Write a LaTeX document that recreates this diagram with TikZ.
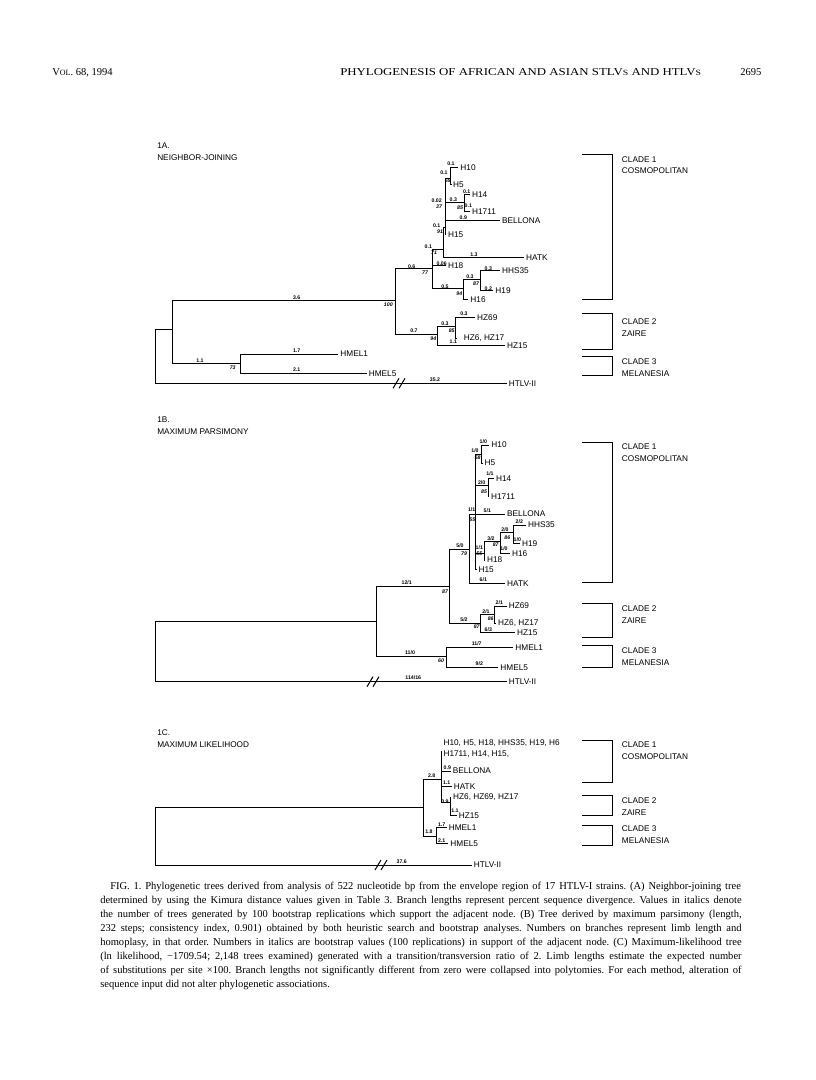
\documentclass[tikz,border=0pt]{standalone}
\usepackage{fontspec}
\usepackage{graphicx}
\setmainfont{Liberation Serif}
\newfontfamily\sansf{Liberation Sans}
\newcommand\labfont{\sansf\fontsize{6.2}{7}\selectfont}
\newcommand\tinyfont{\sansf\bfseries\fontsize{3.9}{4.5}\selectfont}
\newcommand\bsfont{\sansf\bfseries\itshape\fontsize{3.9}{4.5}\selectfont}
\frenchspacing
\begin{document}
\begin{tikzpicture}[x=0.75pt,y=-0.75pt,
  br/.style={line width=0.75pt},
  leaf/.style={anchor=west,inner sep=0pt,xshift=1.4pt,font=\labfont},
  txt/.style={anchor=west,inner sep=0pt,font=\labfont},
  bl/.style={inner sep=0pt,font=\tinyfont},
  bs/.style={inner sep=0pt,font=\bsfont},
  captxt/.style={anchor=base west,inner sep=0pt,font=\fontsize{7.9}{10.5}\selectfont},
  hdr/.style={anchor=base west,inner sep=0pt,font=\fontsize{7.9}{9}\selectfont},
  brk/.style={line width=0.75pt}]
\useasboundingbox[fill=white] (0,0) rectangle (816,1080);

% ---------- header ----------
\node[hdr] (hvol) at (52,76) {V{\fontsize{6}{7}\selectfont OL}. 68, 1994};
\node[hdr] (htitle) at (340,76) {\scalebox{1.22}[1]{PHYLOGENESIS OF AFRICAN AND ASIAN STLV{\fontsize{6}{7}\selectfont S} AND HTLV{\fontsize{6}{7}\selectfont S}}};
\node[hdr] (hpage) at (740,76) {2695};

% ================= 1A =================
\node[txt] (tA1) at (157,146) {1A.};
\node[txt] (tA2) at (157,158) {NEIGHBOR-JOINING};

\coordinate (aR) at (155,329.3);
\coordinate (aA) at (172.7,329.3);
\coordinate (aB) at (395,300.7);
\coordinate (aM) at (240,363.3);
\coordinate (aC) at (432,269);
\coordinate (aZ) at (437.3,334.3);
\coordinate (aZ1) at (455,326.7);
\coordinate (aD) at (443.3,250);
\coordinate (aD2) at (445,228);
\coordinate (aF) at (450.7,178.3);
\coordinate (aG) at (464.3,202.7);
\coordinate (aE) at (463.3,289);
\coordinate (aE2) at (480,280);
\coordinate (aHTLV) at (506.7,383.3);
\coordinate (aHMEL1) at (338.3,354);
\coordinate (aHMEL5) at (366.7,373.3);
\coordinate (aHZ69) at (475,317.3);
\coordinate (aHZ6) at (457,338);
\coordinate (aHZ15) at (505,345.7);
\coordinate (aH10) at (458.3,167.3);
\coordinate (aH5) at (451,184.3);
\coordinate (aH14) at (470,194.3);
\coordinate (aH1711) at (470,211.5);
\coordinate (aBELL) at (500,220.3);
\coordinate (aH15) at (446,235);
\coordinate (aHATK) at (524,257.7);
\coordinate (aH18) at (446,265.5);
\coordinate (aHHS35) at (500,270.7);
\coordinate (aH19) at (493.3,291);
\coordinate (aH16) at (468.3,299.3);

\draw[br] (aR) |- (aA);  \draw[br] (aR) |- (aHTLV);
\draw[br] (aA) |- (aB);  \draw[br] (aA) |- (aM);
\draw[br] (aM) |- (aHMEL1); \draw[br] (aM) |- (aHMEL5);
\draw[br] (aB) |- (aC);  \draw[br] (aB) |- (aZ);
\draw[br] (aZ) |- (aZ1); \draw[br] (aZ) |- (aHZ15);
\draw[br] (aZ1) |- (aHZ69); \draw[br] (aZ1) |- (aHZ6);
\draw[br] (aC) |- (aD);  \draw[br] (aC) |- (aH18); \draw[br] (aC) |- (aE);
\draw[br] (aD) |- (aD2); \draw[br] (aD) |- (aHATK);
\draw[br] (aD2) |- (aF); \draw[br] (aD2) |- (aG); \draw[br] (aD2) |- (aBELL); \draw[br] (aD2) |- (aH15);
\draw[br] (aF) |- (aH10); \draw[br] (aF) |- (aH5);
\draw[br] (aG) |- (aH14); \draw[br] (aG) |- (aH1711);
\draw[br] (aE) |- (aE2); \draw[br] (aE) |- (aH16);
\draw[br] (aE2) |- (aHHS35); \draw[br] (aE2) |- (aH19);

\node[leaf] (laHTLV) at (aHTLV) {HTLV-II};
\node[leaf] (laHMEL1) at (aHMEL1) {HMEL1};
\node[leaf] (laHMEL5) at (aHMEL5) {HMEL5};
\node[leaf] (laHZ69) at (aHZ69) {HZ69};
\node[leaf,xshift=3.5pt] (laHZ6) at (aHZ6) {HZ6, HZ17};
\node[leaf] (laHZ15) at (aHZ15) {HZ15};
\node[leaf] (laH10) at (aH10) {H10};
\node[leaf] (laH5) at (aH5) {H5};
\node[leaf] (laH14) at (aH14) {H14};
\node[leaf] (laH1711) at (aH1711) {H1711};
\node[leaf] (laBELL) at (aBELL) {BELLONA};
\node[leaf] (laH15) at (aH15) {H15};
\node[leaf] (laHATK) at (aHATK) {HATK};
\node[leaf] (laH18) at (aH18) {H18};
\node[leaf] (laHHS35) at (aHHS35) {HHS35};
\node[leaf] (laH19) at (aH19) {H19};
\node[leaf] (laH16) at (aH16) {H16};

\coordinate (abrk) at (399,383.3);
\draw[brk] ([shift={(-6,5)}]abrk) -- ([shift={(0,-5)}]abrk);
\draw[brk] ([shift={(0,5)}]abrk) -- ([shift={(6,-5)}]abrk);

\foreach \x/\y/\t [count=\i] in {451/164/0.1, 444/172.7/0.1, 436.7/200.7/0.02, 453.3/199.3/0.3,
  466.7/191.3/0.1, 468.3/206/0.1, 463.3/217.3/0.9, 436.7/226/0.1, 474/255/1.3, 428.3/246.7/0.1,
  441.7/263.3/0.06, 411.7/266.7/0.6, 488.3/268.3/0.3, 470/276.7/0.3, 488.3/288.5/0.2, 445/286.7/0.5,
  296.7/297.3/3.6, 414/331/0.7, 445/323.3/0.3, 464/314/0.3, 453.3/341.5/1.1, 200/360.7/1.1,
  296.7/350.7/1.7, 296.7/369.3/2.1, 435/379.3/35.2}
  \node[bl] (nal\i) at (\x,\y) {\t};
\foreach \x/\y/\t [count=\i] in {447.7/181/65, 439/206.7/37, 460/207.3/85, 440/231.7/91,
  434/252.7/71, 425/273/77, 476/284/87, 459.3/293.3/94, 388.3/305/100, 433.3/339/94,
  451.7/331/85, 232.7/367.3/73}
  \node[bs] (nab\i) at (\x,\y) {\t};

% ================= 1B =================
\node[txt] (tB1) at (157,420) {1B.};
\node[txt] (tB2) at (157,432) {MAXIMUM PARSIMONY};

\coordinate (bR) at (155,621);
\coordinate (bA) at (376.7,621);
\coordinate (bB) at (449.3,586);
\coordinate (bM) at (446,656);
\coordinate (bC) at (469,549.3);
\coordinate (bZ) at (480,623.3);
\coordinate (bZ1) at (494.3,614.3);
\coordinate (bD) at (475.7,514);
\coordinate (bF) at (481.7,454);
\coordinate (bG) at (488.3,485);
\coordinate (bE0) at (484,553);
\coordinate (bE) at (500.7,541.7);
\coordinate (bE2) at (513.3,532.7);
\coordinate (bHTLV) at (506.7,681.7);
\coordinate (bHMEL1) at (513.3,647.3);
\coordinate (bHMEL5) at (498.3,667.3);
\coordinate (bHZ69) at (506.7,606);
\coordinate (bHZ6) at (496,623.3);
\coordinate (bHZ15) at (515,632.7);
\coordinate (bHATK) at (505,583.3);
\coordinate (bBELL) at (505,514);
\coordinate (bH15) at (476.5,569.3);
\coordinate (bH18) at (485,560);
\coordinate (bH10) at (489.3,445);
\coordinate (bH5) at (482.5,463);
\coordinate (bH14) at (494,478.3);
\coordinate (bH1711) at (489,496.7);
\coordinate (bHHS35) at (526,525);
\coordinate (bH19) at (520,543.3);
\coordinate (bH16) at (510,553.3);

\draw[br] (bR) |- (bA); \draw[br] (bR) |- (bHTLV);
\draw[br] (bA) |- (bB); \draw[br] (bA) |- (bM);
\draw[br] (bM) |- (bHMEL1); \draw[br] (bM) |- (bHMEL5);
\draw[br] (bB) |- (bC); \draw[br] (bB) |- (bZ);
\draw[br] (bZ) |- (bZ1); \draw[br] (bZ) |- (bHZ15);
\draw[br] (bZ1) |- (bHZ69); \draw[br] (bZ1) |- (bHZ6);
\draw[br] (bC) |- (bD); \draw[br] (bC) |- (bHATK);
\draw[br] (bD) |- (bF); \draw[br] (bD) |- (bG); \draw[br] (bD) |- (bBELL); \draw[br] (bD) |- (bE0); \draw[br] (bD) |- (bH15);
\draw[br] (bF) |- (bH10); \draw[br] (bF) |- (bH5);
\draw[br] (bG) |- (bH14); \draw[br] (bG) |- (bH1711);
\draw[br] (bE0) |- (bE); \draw[br] (bE0) |- (bH18);
\draw[br] (bE) |- (bE2); \draw[br] (bE) |- (bH16);
\draw[br] (bE2) |- (bHHS35); \draw[br] (bE2) |- (bH19);

\node[leaf] (lbHTLV) at (bHTLV) {HTLV-II};
\node[leaf] (lbHMEL1) at (bHMEL1) {HMEL1};
\node[leaf] (lbHMEL5) at (bHMEL5) {HMEL5};
\node[leaf] (lbHZ69) at (bHZ69) {HZ69};
\node[leaf] (lbHZ6) at (bHZ6) {HZ6, HZ17};
\node[leaf] (lbHZ15) at (bHZ15) {HZ15};
\node[leaf] (lbHATK) at (bHATK) {HATK};
\node[leaf] (lbBELL) at (bBELL) {BELLONA};
\node[leaf] (lbH15) at (bH15) {H15};
\node[leaf] (lbH18) at (bH18) {H18};
\node[leaf] (lbH10) at (bH10) {H10};
\node[leaf] (lbH5) at (bH5) {H5};
\node[leaf] (lbH14) at (bH14) {H14};
\node[leaf] (lbH1711) at (bH1711) {H1711};
\node[leaf] (lbHHS35) at (bHHS35) {HHS35};
\node[leaf] (lbH19) at (bH19) {H19};
\node[leaf] (lbH16) at (bH16) {H16};

\coordinate (bbrk) at (373,681.7);
\draw[brk] ([shift={(-6,5)}]bbrk) -- ([shift={(0,-5)}]bbrk);
\draw[brk] ([shift={(0,5)}]bbrk) -- ([shift={(6,-5)}]bbrk);

\foreach \x/\y/\t [count=\i] in {483.3/441.7/{1/0}, 475/450.7/{1/0}, 490/474/{1/1}, 481.7/482.3/{2/0},
  471.7/510/{1/1}, 487.3/510.5/{5/1}, 519.3/522/{2/2}, 505/529.3/{2/0}, 517.3/539.3/{1/0}, 491/538.3/{3/2},
  504/549/{1/0}, 479.3/547.3/{1/1}, 460/546/{5/0}, 483.3/580/{6/1}, 406.7/582.7/{12/1}, 464/620/{5/2},
  486/611.2/{2/1}, 499.3/602.5/{2/1}, 488.3/630/{6/3}, 410/652.7/{11/0}, 476.7/643.5/{11/7},
  479.3/663.5/{9/2}, 413.3/678/{114/16}}
  \node[bl] (nbl\i) at (\x,\y) {\t};
\foreach \x/\y/\t [count=\i] in {477.7/457.3/58, 484/491.7/85, 472.3/519.3/55, 507.3/537.3/86,
  495.7/545/87, 479.3/553.3/55, 464/553.3/79, 445/591.7/87, 476.7/626.7/87, 490.7/619/86, 441/660.7/60}
  \node[bs] (nbb\i) at (\x,\y) {\t};

% ================= 1C =================
\node[txt] (tC1) at (157,733) {1C.};
\node[txt] (tC2) at (157,745) {MAXIMUM LIKELIHOOD};

\coordinate (cR) at (155,807.3);
\coordinate (cA) at (423.3,807.3);
\coordinate (cC) at (441.7,779.3);
\coordinate (cM) at (436,836);
\coordinate (cZ) at (450,802);
\coordinate (cTop) at (441.7,751);
\coordinate (cHTLV) at (471.7,865);
\coordinate (cHMEL1) at (446.7,827.3);
\coordinate (cHMEL5) at (448.3,843.3);
\coordinate (cBELL) at (450.7,771);
\coordinate (cHATK) at (451.7,786.7);
\coordinate (cHZ6) at (451,797);
\coordinate (cHZ15) at (456.7,815.7);

\draw[br] (cR) |- (cA); \draw[br] (cR) |- (cHTLV);
\draw[br] (cA) |- (cC); \draw[br] (cA) |- (cM);
\draw[br] (cM) |- (cHMEL1); \draw[br] (cM) |- (cHMEL5);
\draw[br] (cC) |- (cTop);
\draw[br] (cC) |- (cBELL); \draw[br] (cC) |- (cHATK); \draw[br] (cC) |- (cZ);
\draw[br] (cZ) |- (cHZ6); \draw[br] (cZ) |- (cHZ15);

\node[txt] (lcTop1) at (443.3,743.3) {H10, H5, H18, HHS35, H19, H6};
\node[txt] (lcTop2) at (443.3,753.8) {H1711, H14, H15,};
\node[leaf] (lcHTLV) at (cHTLV) {HTLV-II};
\node[leaf] (lcHMEL1) at (cHMEL1) {HMEL1};
\node[leaf] (lcHMEL5) at (cHMEL5) {HMEL5};
\node[leaf] (lcBELL) at (cBELL) {BELLONA};
\node[leaf] (lcHATK) at (cHATK) {HATK};
\node[leaf] (lcHZ6) at (cHZ6) {HZ6, HZ69, HZ17};
\node[leaf] (lcHZ15) at (cHZ15) {HZ15};

\coordinate (cbrk) at (381,865);
\draw[brk] ([shift={(-6,5)}]cbrk) -- ([shift={(0,-5)}]cbrk);
\draw[brk] ([shift={(0,5)}]cbrk) -- ([shift={(6,-5)}]cbrk);

\foreach \x/\y/\t [count=\i] in {447.3/767.7/0.9, 446.7/782.7/1.1, 431.7/776.2/2.8, 445/801.7/0.9,
  455/810.7/1.1, 429/832/1.8, 441.7/824.5/1.7, 441.7/840.5/2.1, 401.7/861.5/37.6}
  \node[bl] (ncl\i) at (\x,\y) {\t};

% ================= clade brackets =================
\foreach \n/\t/\b/\la/\lb/\ya/\yb in {
  a1/154.3/299.3/CLADE 1/COSMOPOLITAN/159.3/170.7,
  a2/313.3/349.3/CLADE 2/ZAIRE/321.7/333.3,
  a3/356.7/375/CLADE 3/MELANESIA/361.7/373.3,
  b1/442/582/CLADE 1/COSMOPOLITAN/447/459,
  b2/603/637/CLADE 2/ZAIRE/609/621,
  b3/645/667/CLADE 3/MELANESIA/651/663,
  c1/740/782/CLADE 1/COSMOPOLITAN/745/757,
  c2/795/815/CLADE 2/ZAIRE/801/813,
  c3/825/845/CLADE 3/MELANESIA/829/841}{
  \coordinate (k\n t) at (581.7,\t);
  \coordinate (k\n b) at (581.7,\b);
  \draw[line width=0.75pt] (k\n t) -- ++(31,0) |- (k\n b);
  \node[txt] (k\n x) at (621.7,\ya) {\la};
  \node[txt] (k\n y) at (621.7,\yb) {\lb};
}

% ================= caption =================
\node[captxt] (c1) at (110,889) {\makebox[473pt][s]{FIG. 1. Phylogenetic trees derived from analysis of 522 nucleotide bp from the envelope region of 17 HTLV-I strains. (A) Neighbor-joining tree}};
\node[captxt] (c2) at (100,903) {\makebox[481pt][s]{determined by using the Kimura distance values given in Table 3. Branch lengths represent percent sequence divergence. Values in italics denote}};
\node[captxt] (c3) at (100,917) {\makebox[481pt][s]{the number of trees generated by 100 bootstrap replications which support the adjacent node. (B) Tree derived by maximum parsimony (length,}};
\node[captxt] (c4) at (100,931) {\makebox[481pt][s]{232 steps; consistency index, 0.901) obtained by both heuristic search and bootstrap analyses. Numbers on branches represent limb length and}};
\node[captxt] (c5) at (100,945) {\makebox[481pt][s]{homoplasy, in that order. Numbers in italics are bootstrap values (100 replications) in support of the adjacent node. (C) Maximum-likelihood tree}};
\node[captxt] (c6) at (100,959) {\makebox[481pt][s]{(ln likelihood, −1709.54; 2,148 trees examined) generated with a transition/transversion ratio of 2. Limb lengths estimate the expected number}};
\node[captxt] (c7) at (100,973) {\makebox[481pt][s]{of substitutions per site ×100. Branch lengths not significantly different from zero were collapsed into polytomies. For each method, alteration of}};
\node[captxt] (c8) at (100,987) {sequence input did not alter phylogenetic associations.};
\end{tikzpicture}
\end{document}
